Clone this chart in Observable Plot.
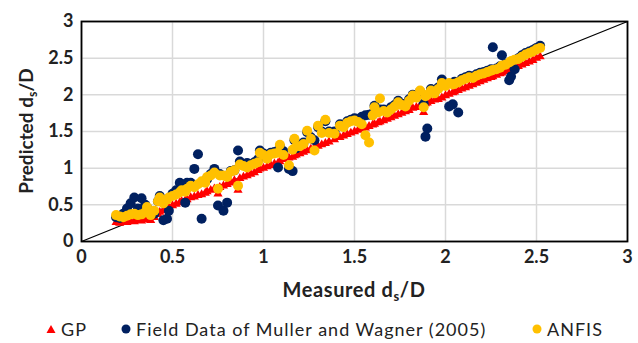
<!DOCTYPE html>
<html>
<head>
<meta charset="utf-8">
<script src="https://cdn.jsdelivr.net/npm/d3@7"></script>
<script src="https://cdn.jsdelivr.net/npm/@observablehq/plot@0.6"></script>
<style>
  html, body { margin: 0; padding: 0; background: #fff; }
  #wrap { position: relative; width: 638px; height: 343px; font-family: Lato, "Open Sans", sans-serif; }
  #legend { position: absolute; left: 0; top: 316px; width: 638px; height: 26px;
            font-size: 18px; letter-spacing: 1px; color: #222; }
  #legend .item { position: absolute; top: 0; height: 26px; display: flex; align-items: center; white-space: nowrap; }
  #legend svg { margin-right: 5px; }
</style>
</head>
<body>
<div id="wrap">
  <div id="chart"></div>
  <div id="legend"></div>
</div>
<script>
// Measured scour depth ratio ds/D
const measured = [
  0.19,0.21,0.23,0.25,0.27,0.29,0.31,0.33,0.35,0.36,0.38,0.40,0.42,0.43,0.45,0.47,0.48,0.50,0.52,0.54,
  0.55,0.57,0.58,0.60,0.62,0.64,0.66,0.68,0.69,0.71,0.73,0.75,0.76,0.78,0.80,0.82,0.84,0.86,0.87,0.89,
  0.91,0.93,0.95,0.97,0.98,1.00,1.02,1.04,1.06,1.08,1.09,1.11,1.14,1.16,1.17,1.18,1.20,1.22,1.24,1.26,
  1.28,1.30,1.32,1.34,1.36,1.39,1.42,1.44,1.46,1.48,1.50,1.52,1.54,1.56,1.58,1.60,1.61,1.63,1.64,1.66,
  1.68,1.70,1.72,1.74,1.76,1.78,1.80,1.82,1.84,1.86,1.88,1.89,1.90,1.92,1.94,1.96,1.98,2.00,2.02,2.04,
  2.05,2.07,2.09,2.11,2.13,2.15,2.17,2.19,2.21,2.23,2.25,2.26,2.28,2.30,2.31,2.33,2.35,2.36,2.38,2.40,
  2.42,2.44,2.46,2.48,2.50,2.52
];
// GP model predictions
const gpPred = [
  0.26,0.25,0.27,0.26,0.28,0.27,0.29,0.28,0.30,0.31,0.29,0.33,0.37,0.40,0.42,0.45,0.47,0.49,0.51,0.53,
  0.55,0.56,0.57,0.60,0.61,0.63,0.64,0.66,0.68,0.70,0.72,0.65,0.74,0.76,0.78,0.80,0.83,0.70,0.86,0.88,
  0.90,0.92,0.94,0.97,0.99,1.00,1.02,1.04,1.06,1.07,1.09,1.12,1.14,1.15,1.17,1.18,1.20,1.22,1.24,1.26,
  1.28,1.30,1.32,1.34,1.36,1.39,1.42,1.44,1.46,1.48,1.50,1.52,1.54,1.55,1.57,1.59,1.60,1.62,1.63,1.65,
  1.67,1.69,1.71,1.73,1.75,1.77,1.79,1.82,1.83,1.85,1.76,1.88,1.89,1.91,1.93,1.94,1.96,1.99,2.01,2.03,
  2.04,2.06,2.08,2.10,2.12,2.14,2.16,2.18,2.20,2.22,2.24,2.25,2.27,2.29,2.30,2.32,2.34,2.35,2.37,2.39,
  2.41,2.43,2.45,2.47,2.50,2.52
];
// Field data of Muller and Wagner (2005)
const fieldPred = [
  0.33,0.32,0.38,0.45,0.52,0.60,0.45,0.59,0.50,0.46,0.40,0.38,0.55,0.62,0.29,0.31,0.42,0.65,0.70,0.80,
  0.75,0.53,0.80,0.80,0.99,1.19,0.31,0.83,0.85,0.92,0.99,0.49,0.92,0.42,0.53,0.96,0.97,1.24,1.09,1.06,
  1.07,1.05,1.08,1.12,1.24,1.20,1.15,1.21,1.22,1.01,1.30,1.23,0.99,0.96,1.38,1.27,1.32,1.35,1.49,1.42,
  1.38,1.56,1.50,1.64,1.50,1.50,1.60,1.58,1.64,1.66,1.68,1.67,1.70,1.72,1.73,1.75,1.85,1.78,1.80,1.80,
  1.78,1.83,1.86,1.92,1.88,1.86,1.94,2.00,1.98,2.04,1.88,1.43,1.54,2.08,2.04,2.10,2.21,2.14,1.84,1.87,
  2.18,1.76,2.22,2.24,2.26,2.25,2.28,2.30,2.31,2.33,2.35,2.65,2.36,2.39,2.54,2.42,2.20,2.25,2.35,2.50,
  2.54,2.57,2.59,2.61,2.64,2.67
];
// ANFIS model predictions
const anfisPred = [
  0.36,0.34,0.33,0.35,0.37,0.38,0.36,0.37,0.40,0.47,0.36,0.42,0.55,0.60,0.52,0.57,0.60,0.62,0.64,0.67,
  0.70,0.68,0.72,0.76,0.74,0.78,0.82,0.80,0.88,0.90,0.94,0.72,0.90,0.90,0.88,0.95,0.97,0.76,1.05,1.03,
  1.01,1.04,1.06,1.08,1.21,1.18,1.13,1.19,1.20,1.21,1.32,1.18,1.04,1.25,1.40,1.30,1.30,1.33,1.51,1.40,
  1.24,1.58,1.48,1.66,1.48,1.47,1.58,1.56,1.62,1.64,1.65,1.63,1.60,1.45,1.35,1.72,1.83,1.76,1.95,1.78,
  1.76,1.80,1.84,1.90,1.86,1.84,1.92,1.99,1.96,2.06,1.83,1.98,2.00,2.06,2.02,2.08,2.16,2.12,2.16,2.14,
  2.15,2.17,2.20,2.22,2.24,2.23,2.26,2.28,2.29,2.31,2.33,2.34,2.35,2.37,2.40,2.41,2.44,2.46,2.48,2.49,
  2.52,2.55,2.57,2.59,2.62,2.64
];

const axisTicks = [0, 0.5, 1, 1.5, 2, 2.5, 3];
const diagonal = [0, 3];

const seriesNames = ["GP", "Field Data of Muller and Wagner (2005)", "ANFIS"];
const seriesColors = ["#ff0000", "#002060", "#ffc000"];

const gpRows = measured.map((m, i) => ({m, p: gpPred[i]}));
const fieldRows = measured.map((m, i) => ({m, p: fieldPred[i]}));
const anfisRows = measured.map((m, i) => ({m, p: anfisPred[i]}));
const lineRows = diagonal.map(v => ({m: v, p: v}));

const fmt = d3.format("~g");
const font = "Lato, 'Open Sans', sans-serif";

const chart = Plot.plot({
  width: 638,
  height: 310,
  marginLeft: 81,
  marginRight: 11,
  marginTop: 21,
  marginBottom: 69,
  style: {fontFamily: font, fontSize: "18px", fontWeight: "bold", color: "#222", background: "white"},
  x: {domain: [0, 3], ticks: axisTicks, tickFormat: fmt, tickSize: 0, tickPadding: 9, label: null},
  y: {domain: [0, 3], ticks: axisTicks, tickFormat: fmt, tickSize: 0, tickPadding: 8, label: null},
  marks: [
    Plot.gridX(axisTicks, {stroke: "#d9d9d9", strokeOpacity: 1, strokeWidth: 1.5}),
    Plot.gridY(axisTicks, {stroke: "#d9d9d9", strokeOpacity: 1, strokeWidth: 1.5}),
    Plot.line(lineRows, {x: "m", y: "p", stroke: "black", strokeWidth: 1.2}),
    Plot.dot(gpRows, {x: "m", y: "p", symbol: "triangle", r: 3.4, fill: seriesColors[0], stroke: "none"}),
    Plot.dot(fieldRows, {x: "m", y: "p", r: 5, fill: seriesColors[1], stroke: "none"}),
    Plot.dot(anfisRows, {x: "m", y: "p", r: 5, fill: seriesColors[2], stroke: "none"}),
    Plot.frame({stroke: "black", strokeWidth: 1.8})
  ]
});
document.getElementById("chart").appendChild(chart);

// Axis titles with subscripted "s"
const svg = d3.select(chart);
const xr = chart.scale("x").range, yr = chart.scale("y").range;
function title(sel, size, spacing, main, tail) {
  sel.attr("font-size", size).attr("font-weight", "bold").attr("fill", "#222")
     .attr("letter-spacing", spacing).attr("text-anchor", "middle").attr("font-family", font);
  sel.append("tspan").text(main);
  sel.append("tspan").attr("font-size", size * 0.65).attr("dy", 4).text("s");
  sel.append("tspan").attr("dy", -4).text(tail);
}
title(svg.append("text").attr("x", (xr[0] + xr[1]) / 2).attr("y", yr[0] + 56), 20, 0.6, "Measured d", "/D");
title(svg.append("text").attr("transform", `translate(33,${(yr[0] + yr[1]) / 2}) rotate(-90)`), 19, 0, "Predicted d", "/D");

// Legend below the chart
const legend = d3.select("#legend");
const items = [
  {name: seriesNames[0], color: seriesColors[0], shape: "triangle", left: 46},
  {name: seriesNames[1], color: seriesColors[1], shape: "circle", left: 121},
  {name: seriesNames[2], color: seriesColors[2], shape: "circle", left: 532}
];
items.forEach(it => {
  const d = legend.append("div").attr("class", "item").style("left", it.left + "px");
  const s = d.append("svg").attr("width", 10).attr("height", 10);
  if (it.shape === "triangle") s.append("path").attr("d", "M5,1L9.5,9H0.5Z").attr("fill", it.color);
  else s.append("circle").attr("cx", 5).attr("cy", 5).attr("r", 4.5).attr("fill", it.color);
  d.append("span").text(it.name);
});
</script>
</body>
</html>
